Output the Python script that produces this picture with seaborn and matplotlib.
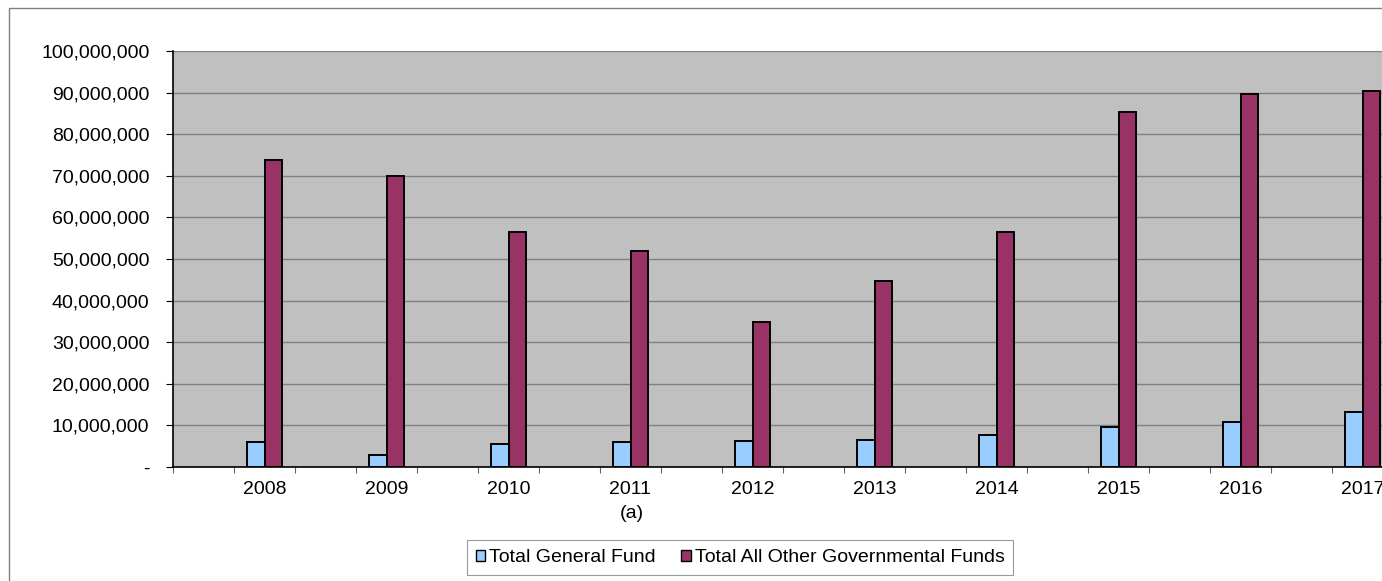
import matplotlib
matplotlib.use("Agg")
import matplotlib.pyplot as plt
import seaborn as sns
import pandas as pd
from matplotlib.patches import Patch, Rectangle
from matplotlib.ticker import FixedLocator, FuncFormatter

# ---- data ----
years = ["2008", "2009", "2010", "2011", "2012", "2013", "2014", "2015", "2016", "2017"]
general_fund = [6.0e6, 3.0e6, 5.5e6, 6.0e6, 6.3e6, 6.4e6, 7.7e6, 9.7e6, 10.9e6, 13.3e6]
other_funds = [73.8e6, 69.9e6, 56.4e6, 52.0e6, 34.9e6, 44.6e6, 56.6e6, 85.3e6, 89.6e6, 90.4e6]
series_names = ["Total General Fund", "Total All Other Governmental Funds"]
y_ticks = [0, 10e6, 20e6, 30e6, 40e6, 50e6, 60e6, 70e6, 80e6, 90e6, 100e6]
x_note = "(a)"

colors = ["#99CCFF", "#993366"]

plt.rcParams['font.family'] = ['Liberation Sans', 'DejaVu Sans']
FS = 14

# Excel-like layout: empty category slot before each year
order = []
for i, y in enumerate(years):
    order.append(f"_gap{i}")
    order.append(y)

df = pd.DataFrame({
    "slot": years * 2,
    "value": general_fund + other_funds,
    "series": [series_names[0]] * len(years) + [series_names[1]] * len(years),
})

W, H = 1382, 581
fig = plt.figure(figsize=(W / 100, H / 100), dpi=100)
ax_left, ax_right, ax_top, ax_bot = 173, 1393, 51, 467
ax = fig.add_axes([ax_left / W, 1 - ax_bot / H, (ax_right - ax_left) / W, (ax_bot - ax_top) / H])
ax.set_facecolor("#C0C0C0")

sns.barplot(data=df, x="slot", y="value", hue="series", order=order,
            hue_order=series_names, palette=colors, width=0.56, saturation=1,
            edgecolor="black", linewidth=1.4, errorbar=None, ax=ax, legend=False,
            zorder=3)

ax.set_xlim(-0.5, len(order) - 0.5)
ax.set_ylim(0, 100e6)
ax.set_yticks(y_ticks)
ax.yaxis.set_major_formatter(FuncFormatter(lambda v, p: "-" if v == 0 else f"{v:,.0f}"))
ax.grid(axis="y", color="#808080", linewidth=1.0, zorder=0)
ax.set_axisbelow(True)

# x ticks: labels at year slots, tick marks at category boundaries
ax.set_xticks([2 * i + 1 for i in range(len(years))])
ax.set_xticklabels(years)
ax.xaxis.set_minor_locator(FixedLocator([k - 0.5 for k in range(len(order) + 1)]))
ax.tick_params(axis="x", which="major", length=0, pad=10, labelsize=FS, colors="black")
ax.tick_params(axis="x", which="minor", length=4, width=0.8, color="#666666")
ax.tick_params(axis="y", length=5, width=0.8, pad=12, labelsize=FS, color="black")
ax.set_xlabel("")
ax.set_ylabel("")

for s in ["top", "right"]:
    ax.spines[s].set_visible(False)
ax.spines["left"].set_color("black")
ax.spines["bottom"].set_color("black")
ax.spines["left"].set_linewidth(1.2)
ax.spines["bottom"].set_linewidth(1.2)

fig.text(632 / W, 1 - 513 / H, x_note, ha="center", va="center", fontsize=FS)

handles = [Patch(facecolor=c, edgecolor="black", linewidth=1.0) for c in colors]
leg = fig.legend(handles, series_names, loc="center", bbox_to_anchor=(740 / W, 1 - 557.5 / H),
                 ncol=2, fontsize=FS, frameon=True, fancybox=False, handlelength=0.5,
                 handleheight=0.5, handletextpad=0.2, columnspacing=1.3, borderpad=0.45)
leg.get_frame().set_edgecolor("#808080")
leg.get_frame().set_linewidth(0.8)

# outer chart border (clipped by image edge)
fig.patches.append(Rectangle((9 / W, -0.1), 1.2, 1 - 8 / H + 0.1, transform=fig.transFigure,
                             fill=False, edgecolor="#808080", linewidth=1.0, clip_on=False))

fig.savefig("out.png", dpi=100)
